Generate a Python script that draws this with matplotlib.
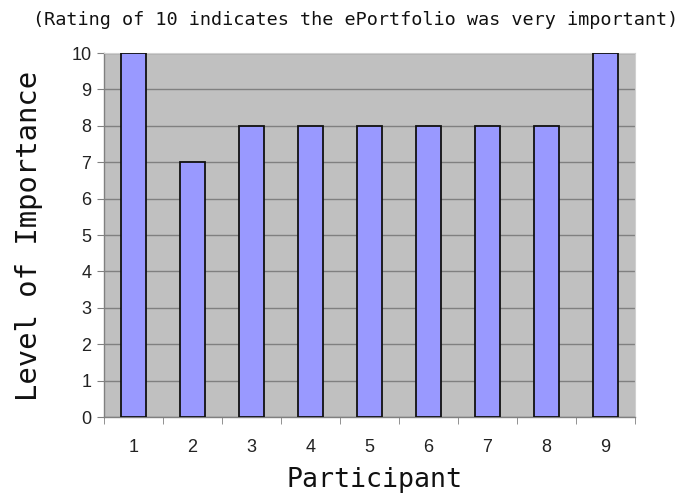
import matplotlib
matplotlib.use("Agg")
import matplotlib.pyplot as plt
import numpy as np

participants = ["1", "2", "3", "4", "5", "6", "7", "8", "9"]
importance = [10, 7, 8, 8, 8, 8, 8, 8, 10]
y_ticks = list(range(0, 11))

W, H = 681, 495
fig = plt.figure(figsize=(6.81, 4.95), dpi=100)
fig.patch.set_facecolor("white")
ax = fig.add_axes([104 / W, 1 - 417 / H, (635 - 104) / W, (417 - 53) / H])
ax.set_facecolor("#c0c0c0")

x = np.arange(len(participants))
ax.bar(x, importance, width=0.42, color="#9999ff", edgecolor="#111111", linewidth=1.3, zorder=3)

ax.set_xlim(-0.5, len(participants) - 0.5)
ax.set_ylim(0, 10)
ax.set_yticks(y_ticks)
ax.set_yticklabels([str(v) for v in y_ticks], fontsize=13, family="Liberation Sans", color="#222222")
ax.set_xticks(x)
ax.set_xticklabels(participants, fontsize=13, family="Liberation Sans", color="#222222")
ax.tick_params(axis="x", length=0, pad=16)
ax.set_xticks(np.arange(-0.5, len(participants) + 0.5, 1), minor=True)
ax.tick_params(axis="x", which="minor", length=5, color="#808080")
ax.tick_params(axis="y", length=5, color="#808080", pad=4)
ax.yaxis.grid(True, color="#808080", linewidth=1.0, zorder=1)
ax.set_axisbelow(True)

for s in ["left", "bottom"]:
    ax.spines[s].set_color("#808080")
    ax.spines[s].set_linewidth(1.0)
for s in ["top", "right"]:
    ax.spines[s].set_color("#d0d0d0")
    ax.spines[s].set_linewidth(0.8)

mono = "DejaVu Sans Mono"
fig.text(375 / W, 1 - 480 / H, "Participant", ha="center", va="center",
         fontsize=19.2, family=mono, color="#111111")
fig.text(29 / W, 1 - 236 / H, "Level of Importance", ha="center", va="center",
         rotation=90, fontsize=20.8, family=mono, color="#111111")
fig.text(356 / W, 1 - 20 / H, "(Rating of 10 indicates the ePortfolio was very important)",
         ha="center", va="center", fontsize=13.3, family=mono, color="#111111")

fig.savefig("out.png", dpi=100)
